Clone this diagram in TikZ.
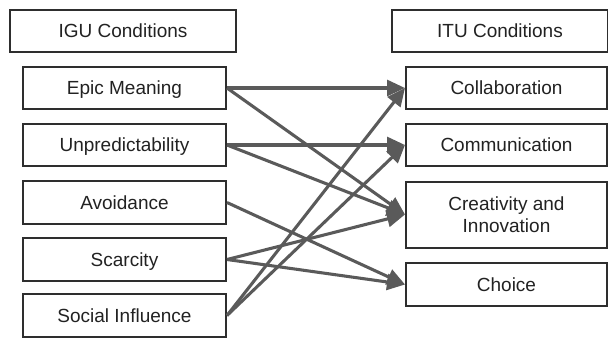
\documentclass[tikz,border=0pt]{standalone}
\usepackage{fontspec}
\setmainfont{Liberation Sans}
\usetikzlibrary{arrows.meta}
\definecolor{boxline}{HTML}{2E2E2E}
\definecolor{txt}{HTML}{222222}
\definecolor{link}{HTML}{5A5A5A}
\begin{document}
\begin{tikzpicture}[x=0.75pt,y=-0.75pt,
  box/.style={draw=boxline,line width=1.5pt,fill=white,inner sep=0pt,
    text=txt,font=\fontsize{14.25}{16.5}\selectfont,align=center,
    text height=10.2pt,text depth=0pt,minimum height=32pt},
  leftbox/.style={box,minimum width=152.25pt},
  rightbox/.style={box,minimum width=150.75pt},
  link/.style={draw=link,line width=2.3pt,
    -{Triangle[length=13.5pt,width=12pt]}}]
\useasboundingbox (0,0) rectangle (608,339);

% column headers
\node[box,minimum width=169.5pt] (igu) at (123,31) {IGU Conditions};
\node[box,minimum width=162pt] (itu) at (500,31) {ITU Conditions};

% IGU conditions
\node[leftbox] (epic)  at (124.5,88)    {Epic Meaning};
\node[leftbox] (unpr)  at (124.5,145)   {Unpredictability};
\node[leftbox] (avoid) at (124.5,202.5) {Avoidance};
\node[leftbox] (scar)  at (124.5,259.5) {Scarcity};
\node[leftbox] (soc)   at (124.5,315.5) {Social Influence};

% ITU conditions
\node[rightbox] (coll) at (506.5,88)    {Collaboration};
\node[rightbox] (comm) at (506.5,145)   {Communication};
\node[rightbox,minimum height=49.5pt,text height={},text depth={}] (crea)
  at (506.5,214.5) {Creativity and\\Innovation};
\node[rightbox] (choi) at (506.5,284.5) {Choice};

% links
\draw[link] (epic.east)  -- (coll.west);
\draw[link] (epic.east)  -- (crea.west);
\draw[link] (unpr.east)  -- (comm.west);
\draw[link] (unpr.east)  -- (crea.west);
\draw[link] (avoid.east) -- (choi.west);
\draw[link] (scar.east)  -- (crea.west);
\draw[link] (scar.east)  -- (choi.west);
\draw[link] (soc.east)   -- (coll.west);
\draw[link] (soc.east)   -- (comm.west);
\end{tikzpicture}
\end{document}
